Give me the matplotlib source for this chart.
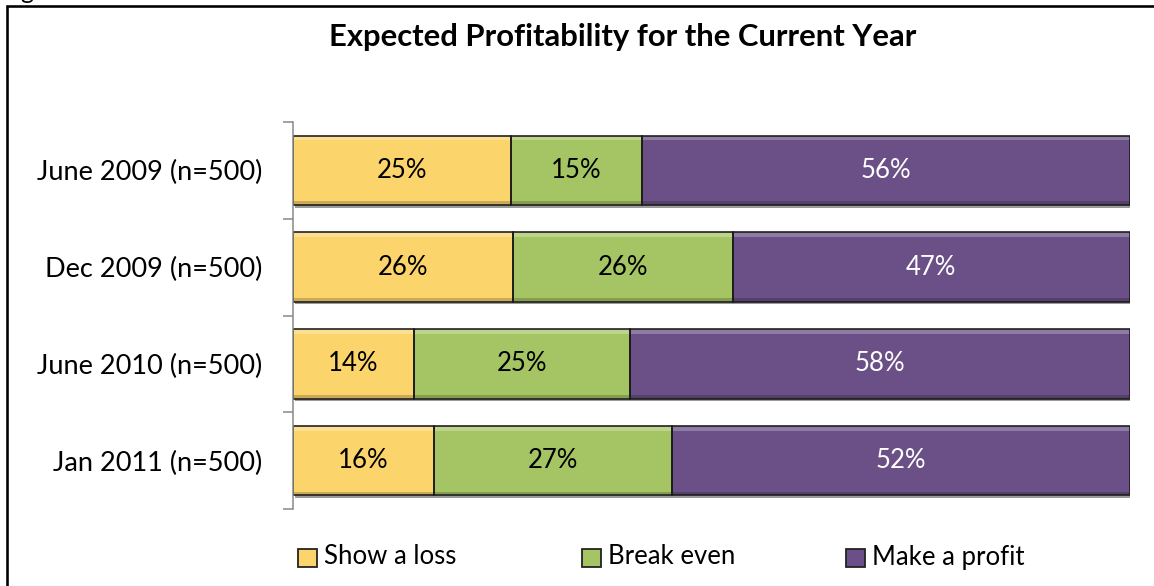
import matplotlib
matplotlib.use("Agg")
import matplotlib.pyplot as plt
from matplotlib.patches import Rectangle
from matplotlib.colors import to_rgb
import numpy as np

categories = ["June 2009 (n=500)", "Dec 2009 (n=500)", "June 2010 (n=500)", "Jan 2011 (n=500)"]
series_names = ["Show a loss", "Break even", "Make a profit"]
show_loss = [25, 26, 14, 16]
break_even = [15, 26, 25, 27]
make_profit = [56, 47, 58, 52]
title = "Expected Profitability for the Current Year"

colors = ["#FCD46C", "#A5C564", "#6A5087"]
label_colors = ["black", "black", "white"]
FONT = "Lato"

W, H = 1154, 586
fig = plt.figure(figsize=(W / 100, H / 100), dpi=100)
fig.patch.set_facecolor("white")
PT = 72 / 100  # points per pixel

def fx(px):
    return px / W

def fy(py):
    return 1 - py / H

def shade(c, f):
    r = np.array(to_rgb(c))
    if f > 0:
        return tuple(r + (1 - r) * f)
    return tuple(r * (1 + f))

# axes: x 293..1130, y 122..509
ax = fig.add_axes([fx(293), fy(509), fx(1130) - fx(293), (509 - 122) / H])

vals = np.array([show_loss, break_even, make_profit], dtype=float)
totals = vals.sum(axis=0)
fracs = vals / totals
y = np.arange(len(categories))
left = np.zeros(len(categories))
BH = 0.72
for i, name in enumerate(series_names):
    # shadow
    ax.barh(y + 0.025, fracs[i], left=left + 0.002, height=BH, color="#9a9a9a",
            edgecolor="none", zorder=1)
    ax.barh(y, fracs[i], left=left, height=BH, color=colors[i],
            edgecolor="none", zorder=2, label=name)
    # bevel: light strip at top, dark strip at bottom
    ax.barh(y - BH / 2 + 0.025, fracs[i], left=left, height=0.05,
            color=shade(colors[i], 0.25), edgecolor="none", zorder=2.1)
    ax.barh(y + BH / 2 - 0.02, fracs[i], left=left, height=0.04,
            color=shade(colors[i], -0.2), edgecolor="none", zorder=2.1)
    ax.barh(y, fracs[i], left=left, height=BH, color="none",
            edgecolor="#1a1a1a", linewidth=1.6 * PT, zorder=2.2)
    for j in range(len(categories)):
        ax.text(left[j] + fracs[i][j] / 2, y[j], f"{int(vals[i][j])}%",
                ha="center", va="center", fontsize=18.5, color=label_colors[i],
                family=FONT, zorder=3)
    left += fracs[i]

ax.set_xlim(0, 1)
ax.set_ylim(len(categories) - 0.5, -0.5)
ax.set_xticks([])
ax.set_yticks(np.arange(-0.5, len(categories), 1.0))
ax.set_yticklabels([])
ax.set_yticks(y, minor=True)
ax.set_yticklabels(categories, minor=True, fontsize=19.5, family=FONT)
ax.tick_params(axis="y", which="major", length=10 * PT, width=1.5 * PT, color="#868686", direction="out")
ax.tick_params(axis="y", which="minor", length=0, pad=31 * PT)
for s in ["top", "right", "bottom"]:
    ax.spines[s].set_visible(False)
ax.spines["left"].set_color("#868686")
ax.spines["left"].set_linewidth(1.5 * PT)
ax.set_facecolor("none")

fig.text(fx(623), fy(37), title, ha="center", va="center", fontsize=22.3,
         fontweight="bold", family=FONT)

# legend
leg_x = [298, 582, 846]
for i, name in enumerate(series_names):
    fig.add_artist(Rectangle((fx(leg_x[i]), fy(567)), fx(19), 18 / H, transform=fig.transFigure,
                             facecolor=colors[i], edgecolor="#222222", linewidth=1.8 * PT))
    fig.text(fx(leg_x[i] + 26), fy(557), name, ha="left", va="center", fontsize=18.5, family=FONT)

# outer frame (partially cut off)
fig.add_artist(Rectangle((fx(6.5), fy(H + 20)), fx(W + 20), (H + 20 - 6) / H,
                         transform=fig.transFigure, facecolor="none",
                         edgecolor="black", linewidth=2.6 * PT))
fig.text(fx(2), fy(-1), "Figure", ha="left", va="baseline", fontsize=18, family=FONT)

fig.savefig("out.png", dpi=100)
